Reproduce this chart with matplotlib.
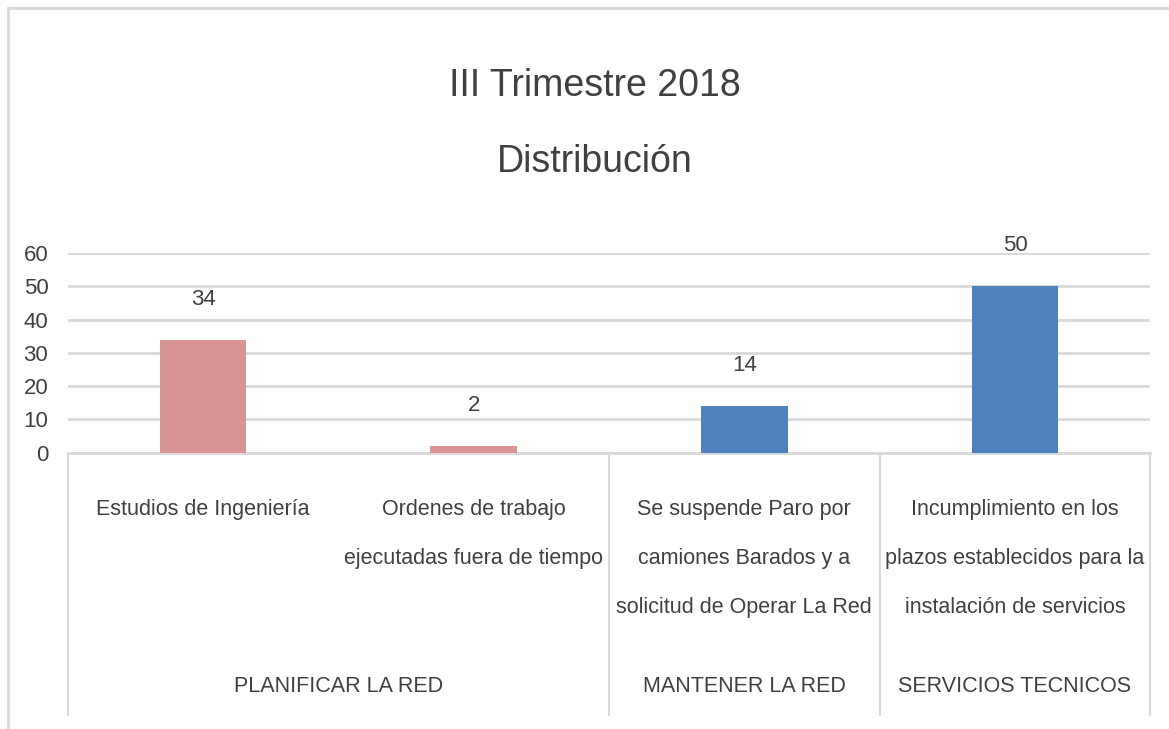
import matplotlib.pyplot as plt
from matplotlib.patches import Rectangle
from matplotlib.transforms import blended_transform_factory

plt.rcParams['font.family'] = ['Liberation Sans', 'DejaVu Sans']

categories = ['Estudios de Ingeniería',
              'Ordenes de trabajo\nejecutadas fuera de tiempo',
              'Se suspende Paro por\ncamiones Barados y a\nsolicitud de Operar La Red',
              'Incumplimiento en los\nplazos establecidos para la\ninstalación de servicios']
values = [34, 2, 14, 50]
groups = ['PLANIFICAR LA RED', 'MANTENER LA RED', 'SERVICIOS TECNICOS']
group_span = [(0, 1), (2, 2), (3, 3)]
colors = ['#D99594', '#D99594', '#4F81BD', '#4F81BD']
text_color = '#404040'

fig = plt.figure(figsize=(11.69, 7.29), dpi=100)
ax = fig.add_axes([0.058, 0.379, 0.926, 0.274])

x = range(len(values))
ax.bar(x, values, width=0.32, color=colors, zorder=3)
for xi, v in zip(x, values):
    ax.annotate(str(v), (xi, v), xytext=(0, 29), textcoords='offset points',
                ha='center', va='center', fontsize=16, color=text_color)

ax.set_xlim(-0.5, 3.5)
ax.set_ylim(0, 60)
ax.set_yticks(range(0, 61, 10))
ax.tick_params(axis='y', length=0, pad=14, labelsize=16, labelcolor=text_color)
ax.set_xticks([])
ax.grid(axis='y', color='#D9D9D9', linewidth=2, zorder=0)
for s in ['top', 'right', 'left']:
    ax.spines[s].set_visible(False)
ax.spines['bottom'].set_color('#D9D9D9')
ax.spines['bottom'].set_linewidth(2)

tr = blended_transform_factory(ax.transData, fig.transFigure)
y0 = 1 - 453 / 729
y1 = 1 - 715 / 729
for sx in [-0.5, 1.5, 2.5, 3.5]:
    ax.plot([sx, sx], [y0, y1], transform=tr, color='#D9D9D9', lw=1.5, clip_on=False)

for xi, lab in zip(x, categories):
    ax.text(xi, 1 - 499 / 729, lab, transform=tr, ha='center', va='top',
            fontsize=15.5, color=text_color, linespacing=2.75)

for g, (a, b) in zip(groups, group_span):
    ax.text((a + b) / 2, 1 - 686 / 729, g, transform=tr, ha='center', va='center',
            fontsize=15.5, color=text_color)

fig.text(0.509, 1 - 124 / 729, 'III Trimestre 2018\nDistribución', ha='center', va='center',
         fontsize=27, color=text_color, linespacing=2.45)

fig.patches.append(Rectangle((8 / 1169, -0.1), 1.2, 1.1 - 8 / 729, transform=fig.transFigure,
                             fill=False, edgecolor='#D9D9D9', lw=2))

fig.savefig('out.png', dpi=100)
